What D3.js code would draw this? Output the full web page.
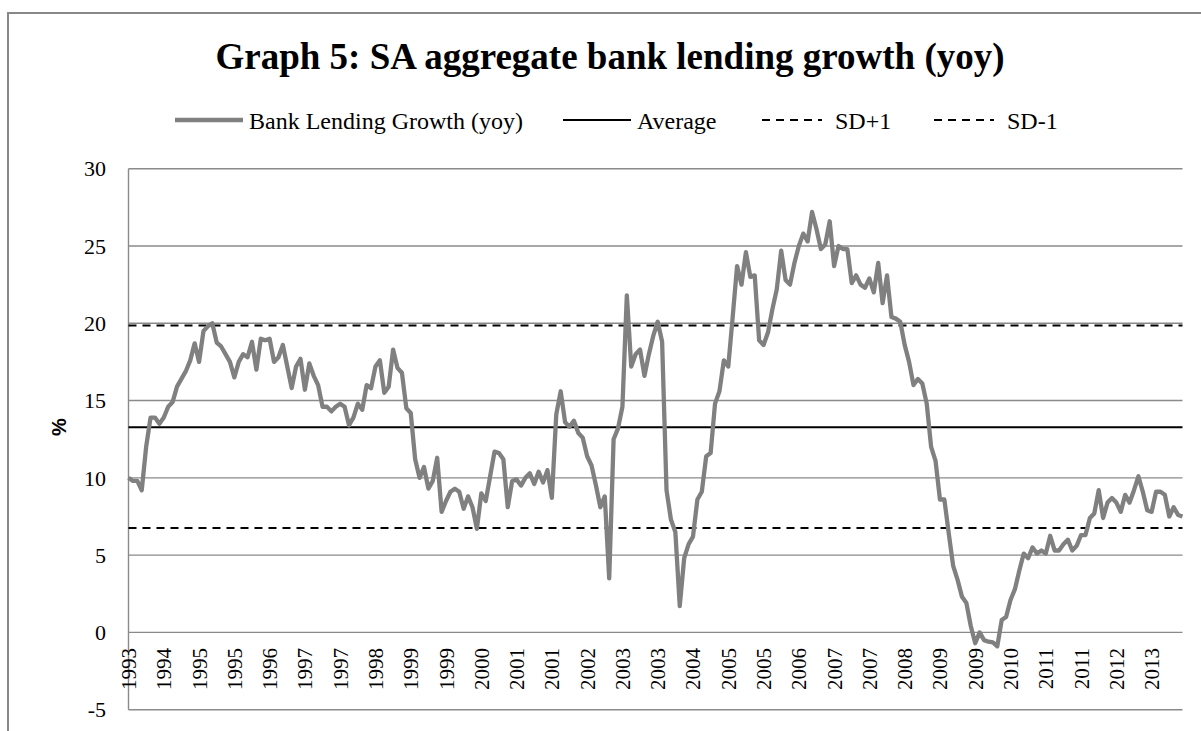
<!DOCTYPE html>
<html>
<head>
<meta charset="utf-8">
<script src="https://cdn.jsdelivr.net/npm/d3@7"></script>
<style>
	body { margin: 0; background: #fff; }
	text { font-family: "Liberation Serif", "Times New Roman", serif; fill: #000; }
</style>
</head>
<body>
<svg id="chart" width="1201" height="731"></svg>
<script>
// one value per month
var lending = [
	10.0, 9.8, 9.8, 9.2, 12.0, 13.9, 13.9, 13.5, 13.9, 14.6,
	14.9, 15.9, 16.4, 16.9, 17.6, 18.7, 17.5, 19.5, 19.8, 20.0,
	18.75, 18.5, 18.0, 17.5, 16.5, 17.5, 18.0, 17.8, 18.8, 17.0,
	19.0, 18.9, 19.0, 17.5, 17.8, 18.6, 17.2, 15.8, 17.2, 17.7,
	15.7, 17.4, 16.6, 16.0, 14.6, 14.6, 14.3, 14.6, 14.8, 14.6,
	13.4, 13.9, 14.8, 14.4, 16.0, 15.8, 17.2, 17.6, 15.5, 15.9,
	18.3, 17.1, 16.8, 14.5, 14.2, 11.2, 10.0, 10.7, 9.3, 9.8,
	11.3, 7.8, 8.5, 9.1, 9.3, 9.1, 8.0, 8.8, 8.1, 6.7,
	9.0, 8.5, 10.1, 11.7, 11.6, 11.2, 8.1, 9.8, 9.9, 9.5,
	10.0, 10.3, 9.6, 10.4, 9.7, 10.5, 8.7, 14.1, 15.6, 13.6,
	13.3, 13.7, 12.9, 12.6, 11.4, 10.8, 9.5, 8.1, 8.8, 3.5,
	12.5, 13.2, 14.6, 21.8, 17.2, 18.0, 18.3, 16.6, 18.0, 19.2,
	20.1, 18.8, 9.2, 7.3, 6.5, 1.7, 4.8, 5.7, 6.2, 8.6,
	9.1, 11.4, 11.6, 14.8, 15.6, 17.6, 17.2, 20.4, 23.7, 22.5,
	24.6, 23.0, 23.1, 18.9, 18.6, 19.4, 20.9, 22.2, 24.7, 22.8,
	22.5, 23.9, 25.0, 25.8, 25.3, 27.2, 26.1, 24.8, 25.1, 26.6,
	23.7, 25.0, 24.8, 24.8, 22.6, 23.1, 22.5, 22.3, 22.9, 22.0,
	23.9, 21.3, 23.1, 20.4, 20.3, 20.1, 18.6, 17.5, 16.0, 16.4,
	16.1, 14.8, 12.0, 11.1, 8.6, 8.6, 6.4, 4.3, 3.4, 2.3,
	1.9, 0.4, -0.7, 0.0, -0.5, -0.6, -0.65, -0.9, 0.8, 1.0,
	2.1, 2.8, 4.0, 5.1, 4.8, 5.5, 5.1, 5.3, 5.1, 6.25,
	5.3, 5.3, 5.7, 6.0, 5.3, 5.6, 6.3, 6.3, 7.4, 7.7,
	9.2, 7.4, 8.4, 8.7, 8.4, 7.8, 8.9, 8.4, 9.2, 10.1,
	9.1, 7.9, 7.8, 9.1, 9.1, 8.9, 7.5, 8.1, 7.6, 7.5
];

// labels shown on every 8th month
var tickLabels = ["1993", "1994", "1995", "1995", "1996", "1997", "1997", "1998", "1999", "1999",
	"2000", "2001", "2001", "2002", "2003", "2003", "2004", "2005", "2005", "2006",
	"2007", "2007", "2008", "2009", "2009", "2010", "2011", "2011", "2012", "2013"];
var tickStep = 8;

var yTicks = [-5, 0, 5, 10, 15, 20, 25, 30];

var refNames = ["Average", "SD+1", "SD-1"];
var refValues = [13.28, 19.85, 6.75];

var svg = d3.select("#chart");

// outer chart border (runs off the page to the right and bottom)
svg.append("rect")
	.attr("x", 8)
	.attr("y", 13)
	.attr("width", 1206)
	.attr("height", 760)
	.attr("fill", "none")
	.attr("stroke", "#888")
	.attr("stroke-width", 2);

svg.append("text")
	.attr("x", 610)
	.attr("y", 69)
	.attr("text-anchor", "middle")
	.style("font-size", "37px")
	.style("font-weight", "bold")
	.text("Graph 5: SA aggregate bank lending growth (yoy)");

var plotL = 128.5, plotR = 1182.5, plotT = 168.7, plotB = 709.7;

var x = d3.scalePoint()
	.domain(d3.range(lending.length))
	.range([plotL, plotR]);

var y = d3.scaleLinear()
	.domain([-5, 30])
	.range([plotB, plotT]);

// gridlines
svg.append("g")
	.selectAll("line")
	.data(yTicks)
	.enter()
	.append("line")
	.attr("x1", plotL)
	.attr("x2", plotR)
	.attr("y1", function(d) { return y(d); })
	.attr("y2", function(d) { return y(d); })
	.attr("stroke", "#8a8a8a")
	.attr("stroke-width", 1.4);

svg.append("line")
	.attr("x1", plotL)
	.attr("x2", plotL)
	.attr("y1", plotT)
	.attr("y2", plotB)
	.attr("stroke", "#8a8a8a")
	.attr("stroke-width", 1.4);

// y tick labels
svg.append("g")
	.selectAll("text")
	.data(yTicks)
	.enter()
	.append("text")
	.attr("x", 106)
	.attr("y", function(d) { return y(d); })
	.attr("dy", "0.35em")
	.attr("text-anchor", "end")
	.style("font-size", "22px")
	.text(function(d) { return d; });

svg.append("text")
	.attr("transform", "translate(66,427) rotate(-90)")
	.attr("text-anchor", "middle")
	.style("font-family", "'Liberation Sans', Arial, sans-serif")
	.style("font-weight", "bold")
	.style("font-size", "20px")
	.text("%");

// x tick labels, rotated
svg.append("g")
	.selectAll("text")
	.data(tickLabels)
	.enter()
	.append("text")
	.attr("transform", function(d, i) {
		return "translate(" + (x(i * tickStep) + 7.5) + "," + 648 + ") rotate(-90)";
	})
	.attr("text-anchor", "end")
	.style("font-size", "21px")
	.text(function(d) { return d; });

// reference lines
var refDash = [null, "8,6", "8,6"];

svg.append("g")
	.selectAll("line")
	.data(refValues)
	.enter()
	.append("line")
	.attr("x1", plotL)
	.attr("x2", plotR)
	.attr("y1", function(d) { return y(d); })
	.attr("y2", function(d) { return y(d); })
	.attr("stroke", "#000")
	.attr("stroke-width", 2)
	.attr("stroke-dasharray", function(d, i) { return refDash[i]; });

var line = d3.line()
	.x(function(d, i) { return x(i); })
	.y(function(d) { return y(d); });

svg.append("path")
	.datum(lending)
	.attr("d", line)
	.attr("fill", "none")
	.attr("stroke", "#808080")
	.attr("stroke-width", 4.3)
	.attr("stroke-linejoin", "round");

// legend
var legendItems = [
	{ name: "Bank Lending Growth (yoy)", x: 175, color: "#808080", width: 4.5, dash: null },
	{ name: refNames[0], x: 563, color: "#000", width: 2, dash: null },
	{ name: refNames[1], x: 758, color: "#000", width: 2, dash: "8,6" },
	{ name: refNames[2], x: 930, color: "#000", width: 2, dash: "8,6" }
];

var lg = svg.append("g")
	.selectAll("g")
	.data(legendItems)
	.enter()
	.append("g")
	.attr("transform", function(d) { return "translate(" + d.x + ",120)"; });

lg.append("line")
	.attr("x1", function(d) { return d.dash ? 4 : 0; })
	.attr("x2", function(d) { return d.dash ? 64 : 68; })
	.attr("y1", 0)
	.attr("y2", 0)
	.attr("stroke", function(d) { return d.color; })
	.attr("stroke-width", function(d) { return d.width; })
	.attr("stroke-dasharray", function(d) { return d.dash; });

lg.append("text")
	.attr("x", function(d) { return d.dash ? 77 : 74; })
	.attr("y", 9)
	.style("font-size", "24px")
	.text(function(d) { return d.name; });
</script>
</body>
</html>
